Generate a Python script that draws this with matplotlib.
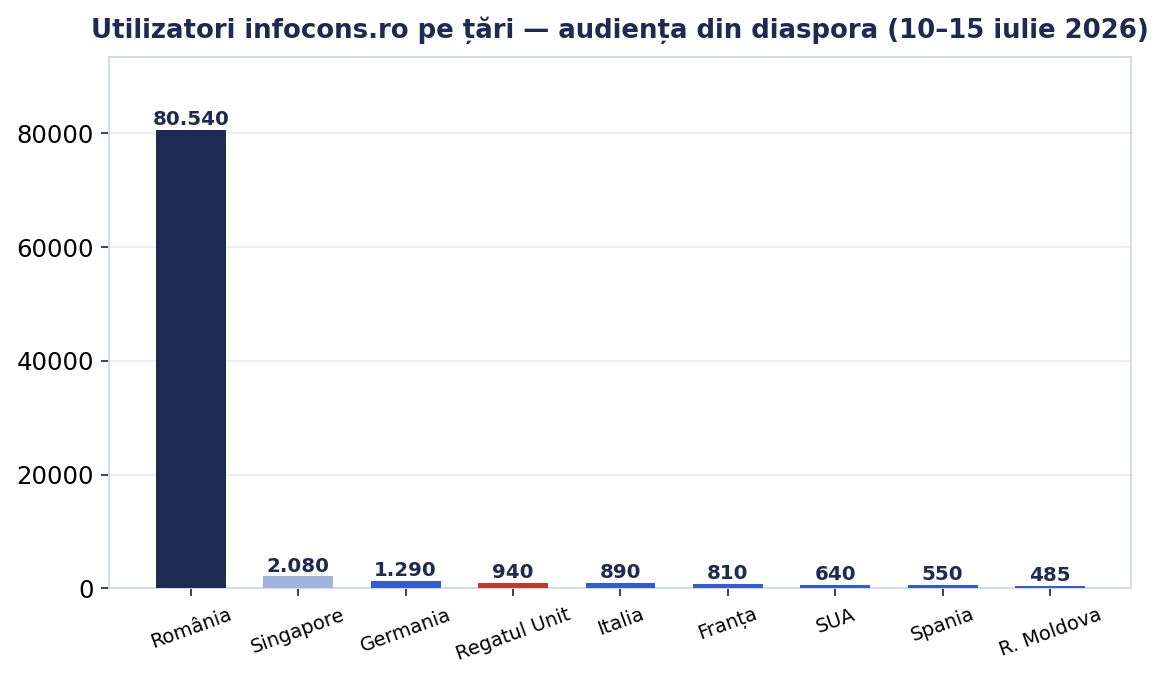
import matplotlib.pyplot as plt

countries = ["România", "Singapore", "Germania", "Regatul Unit", "Italia",
             "Franța", "SUA", "Spania", "R. Moldova"]
users = [80540, 2080, 1290, 940, 890, 810, 640, 550, 485]
labels = ["80.540", "2.080", "1.290", "940", "890", "810", "640", "550", "485"]
colors = ["#1f2a52", "#a0b4e0", "#2f5bd6", "#c0392b", "#2f5bd6",
          "#2f5bd6", "#2f5bd6", "#2f5bd6", "#2f5bd6"]

fig, ax = plt.subplots(figsize=(11.64, 6.77), dpi=100)

bars = ax.bar(countries, users, width=0.65, color=colors, zorder=3)

for bar, lab in zip(bars, labels):
    ax.text(bar.get_x() + bar.get_width() / 2, bar.get_height() + 150, lab,
            ha="center", va="bottom", fontsize=14.3, fontweight="bold",
            color="#1f2a52", zorder=4)

ax.set_ylim(0, max(users) * 1.16)
ax.set_title("Utilizatori infocons.ro pe țări — audiența din diaspora (10–15 iulie 2026)",
             fontsize=18.7, fontweight="bold", color="#1f2a52", pad=13.5)

ax.grid(axis="y", color="#e8ecf7", linewidth=1.2, zorder=0)
for s in ax.spines.values():
    s.set_color("#cfd8ec")
    s.set_linewidth(1.3)

ax.tick_params(axis="y", labelsize=17.6, length=6, width=1.2, pad=5, color="#222222")
ax.tick_params(axis="x", labelsize=14, length=6, width=1.2, pad=6, color="#222222")
plt.xticks(rotation=20)

plt.subplots_adjust(left=0.094, right=0.972, top=0.916, bottom=0.131)
plt.savefig("out.png", dpi=100)
plt.close()
